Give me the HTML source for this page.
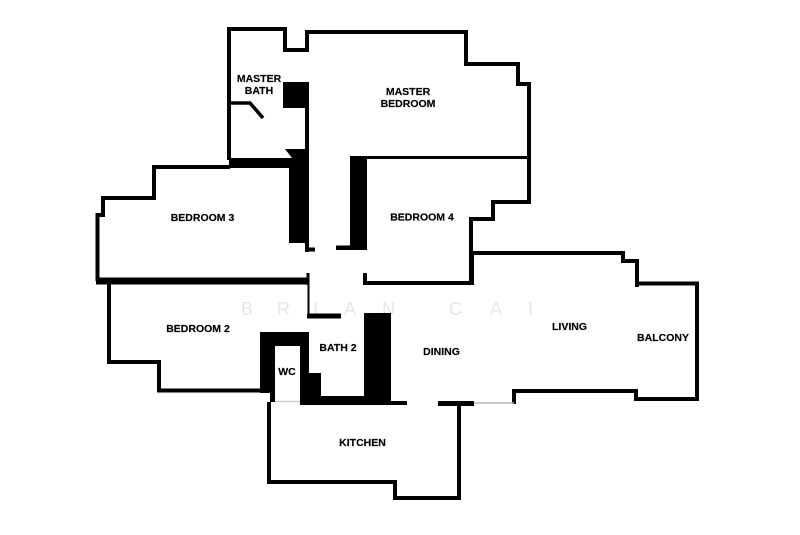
<!DOCTYPE html>
<html><head><meta charset="utf-8"><style>
html,body{margin:0;padding:0;background:#fff}
svg{display:block}
.l{font:bold 10.5px "Liberation Sans",sans-serif;fill:#000;stroke:#000;stroke-width:.15;text-anchor:middle}
.w{font:18px "Liberation Sans",sans-serif;fill:#e6e6e6}
</style></head><body>
<svg width="800" height="535" viewBox="0 0 800 535" xmlns="http://www.w3.org/2000/svg">
<defs><filter id="b" filterUnits="userSpaceOnUse" x="0" y="0" width="800" height="535"><feGaussianBlur stdDeviation="0.35"/></filter></defs>
<rect width="800" height="535" fill="#fff"/>
<g filter="url(#b)">
<g>
<text class="w" x="241" y="315">B</text><text class="w" x="277" y="315">R</text><text class="w" x="313" y="315">I</text><text class="w" x="344" y="315">A</text><text class="w" x="382" y="315">N</text><text class="w" x="449" y="315">C</text><text class="w" x="490" y="315">A</text><text class="w" x="528" y="315">I</text>
</g>
<g fill="none" stroke="#000" stroke-width="4" stroke-linejoin="miter">
<path d="M229 160V29H285V50H307V32H466V64H518V84H529V202H493V219H471V283H365V273"/>
<path d="M230 167H154V198H103V215H97.500V281"/>
<path d="M109 282V362H159V390.500H262"/>
<path d="M473 253H623V261H637V287"/>
<path d="M636 283.500H697V399H636V391H514V404"/>
<path d="M459 403V498H395V482H269V402"/>
<path d="M231 103H250L263 118" stroke-width="3.500"/>
<path d="M307 82V158"/>
<path d="M350 157.500H529" stroke-width="3"/>
</g>
<g fill="#000">
<rect x="283" y="82" width="26" height="26"/>
<polygon points="285,149 305,149 305,158 292,158"/>
<rect x="229" y="158" width="80" height="10"/>
<rect x="289" y="158" width="20" height="85"/>
<rect x="305" y="240" width="4" height="12"/>
<rect x="305" y="247.500" width="10" height="4"/>
<rect x="350" y="157" width="17" height="93"/>
<rect x="336" y="245.500" width="15" height="4.500"/>
<rect x="96" y="277.500" width="212.500" height="7"/>
<rect x="306.500" y="273" width="3" height="12"/>
<rect x="307.500" y="284" width="2" height="32"/>
<rect x="307" y="313.500" width="34" height="5"/>
<rect x="364" y="313" width="27" height="92"/>
<rect x="300" y="396" width="91" height="9"/>
<rect x="390" y="401" width="17" height="4"/>
<rect x="300" y="332" width="9" height="72"/>
<rect x="300" y="373" width="21" height="30"/>
<rect x="260" y="332" width="49" height="14"/>
<rect x="260" y="332" width="15" height="61"/>
<rect x="270" y="390" width="5" height="12"/>
<rect x="438" y="401" width="36" height="5"/>
<rect x="469.500" y="253" width="4.500" height="32"/>
</g>
<path d="M474 403H514" stroke="#bbb" stroke-width="1.500" fill="none"/>
<path d="M275 401.500H300" stroke="#ccc" stroke-width="1.500" fill="none"/>
<text class="l" x="259" y="82">MASTER</text>
<text class="l" x="259" y="94">BATH</text>
<text class="l" x="408" y="95">MASTER</text>
<text class="l" x="408" y="107">BEDROOM</text>
<text class="l" x="202.500" y="221">BEDROOM 3</text>
<text class="l" x="422" y="220.500">BEDROOM 4</text>
<text class="l" x="198" y="332">BEDROOM 2</text>
<text class="l" x="338" y="351">BATH 2</text>
<text class="l" x="287" y="375">WC</text>
<text class="l" x="441.500" y="355">DINING</text>
<text class="l" x="569.500" y="330">LIVING</text>
<text class="l" x="663" y="341">BALCONY</text>
<text class="l" x="362.500" y="446">KITCHEN</text>
</g>
</svg>
</body></html>
